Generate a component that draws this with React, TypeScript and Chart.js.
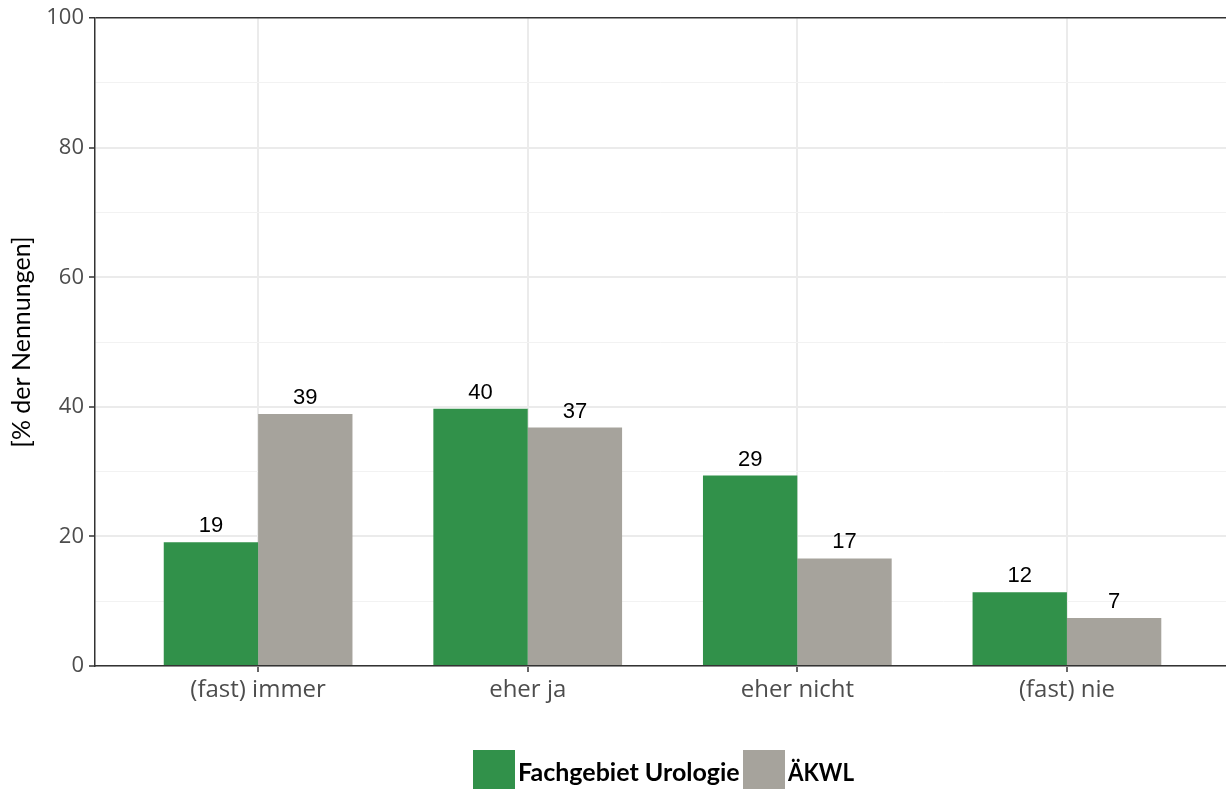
import React, { useEffect, useRef } from "react";
import { Chart, registerables } from "chart.js";

Chart.register(...registerables);

const categories = ["(fast) immer", "eher ja", "eher nicht", "(fast) nie"];
const seriesNames = ["Fachgebiet Urologie", "ÄKWL"];
const urologie = [19.1, 39.7, 29.4, 11.4];
const aekwl = [38.9, 36.8, 16.6, 7.4];
const urologieLabels = ["19", "40", "29", "12"];
const aekwlLabels = ["39", "37", "17", "7"];
const yTicks = [0, 20, 40, 60, 80, 100];

const GREEN = "#31914a";
const GREY = "#a6a39c";

export default function App() {
  const ref = useRef<HTMLCanvasElement>(null);
  useEffect(() => {
    document.body.style.margin = "0";
    const ctx = ref.current!.getContext("2d")!;
    const toPts = (arr: number[]) => arr.map((v, i) => ({ x: i + 1, y: v }));
    const labelSets = [urologieLabels, aekwlLabels];

    const dataLabelPlugin = {
      id: "dataLabels",
      afterDatasetsDraw(chart: any) {
        const c = chart.ctx;
        c.save();
        c.font = "22px 'Liberation Sans', Arial, sans-serif";
        c.fillStyle = "#000";
        c.textAlign = "center";
        c.textBaseline = "alphabetic";
        chart.data.datasets.forEach((_: any, di: number) => {
          const meta = chart.getDatasetMeta(di);
          meta.data.forEach((bar: any, i: number) => {
            c.fillText(labelSets[di][i], bar.x, bar.y - 10);
          });
        });
        c.restore();
      },
    };

    const legendPlugin = {
      id: "customLegend",
      afterDraw(chart: any) {
        const c = chart.ctx;
        c.save();
        const colors = [GREEN, GREY];
        const boxX = [473, 743];
        const textW = [222, 66];
        c.font = "bold 25px Lato, 'Open Sans', sans-serif";
        c.textBaseline = "alphabetic";
        c.textAlign = "left";
        seriesNames.forEach((name, i) => {
          c.fillStyle = colors[i];
          c.fillRect(boxX[i], 750, 42, 39);
          c.fillStyle = "#000";
          c.fillText(name, boxX[i] + 45, 781, textW[i]);
        });
        c.restore();
      },
    };

    const chart = new Chart(ctx, {
      type: "bar",
      data: {
        datasets: [
          { label: seriesNames[0], data: toPts(urologie) as any, backgroundColor: GREEN, borderWidth: 0 },
          { label: seriesNames[1], data: toPts(aekwl) as any, backgroundColor: GREY, borderWidth: 0 },
        ],
      },
      options: {
        animation: false,
        responsive: false,
        maintainAspectRatio: false,
        layout: { padding: { top: 16, right: 0, left: 0, bottom: 0 } },
        datasets: { bar: { categoryPercentage: 0.7, barPercentage: 1.0, grouped: true } },
        plugins: { legend: { display: false }, tooltip: { enabled: false } },
        scales: {
          x: {
            type: "linear",
            min: 0.395,
            max: 4.59,
            offset: false,
            afterBuildTicks: (scale: any) => {
              scale.ticks = categories.map((_, i) => ({ value: i + 1 }));
            },
            afterFit: (scale: any) => {
              scale.height = 123;
            },
            ticks: {
              callback: (v: any) => categories[Math.round(Number(v)) - 1] ?? "",
              color: "#4d4d4d",
              font: { family: "'Open Sans', sans-serif", size: 24 },
              padding: 4,
              maxRotation: 0,
              autoSkip: false,
            },
            grid: {
              offset: false,
              color: "#ebebeb",
              lineWidth: 2,
              tickColor: "#333333",
              tickLength: 6,
              tickWidth: 1.5,
            },
            border: { display: true, color: "#333333", width: 1.5 },
          },
          y: {
            min: 0,
            max: 100,
            afterBuildTicks: (scale: any) => {
              const t: any[] = [];
              for (let v = 0; v <= 100; v += 10) t.push({ value: v });
              scale.ticks = t;
            },
            afterFit: (scale: any) => {
              scale.width = 95;
            },
            ticks: {
              callback: (v: any) => (yTicks.includes(Number(v)) ? String(v) : ""),
              color: "#4d4d4d",
              font: { family: "'Open Sans', sans-serif", size: 22 },
              padding: 5,
              autoSkip: false,
            },
            grid: {
              color: (c: any) => (c.tick && c.tick.value === 100 ? "#333333" : c.tick && c.tick.value % 20 === 0 ? "#ebebeb" : "#f2f2f2"),
              lineWidth: (c: any) => (c.tick && c.tick.value === 100 ? 1.5 : c.tick && c.tick.value % 20 === 0 ? 2 : 1),
              tickColor: (c: any) => (c.tick && c.tick.value % 20 === 0 ? "#333333" : "rgba(0,0,0,0)"),
              tickLength: 6,
              tickWidth: 1.5,
            },
            border: { display: true, color: "#333333", width: 1.5 },
            title: {
              display: true,
              text: "[% der Nennungen]",
              color: "#000",
              font: { family: "Lato, sans-serif", size: 25 },
              padding: { top: 7, bottom: 0 },
            },
          },
        },
      },
      plugins: [dataLabelPlugin, legendPlugin],
    } as any);
    return () => chart.destroy();
  }, []);

  return (
    <div style={{ position: "absolute", left: 0, top: 0, width: 1226, height: 789, background: "#fff" }}>
      <canvas ref={ref} width={1226} height={789} style={{ display: "block" }} />
    </div>
  );
}
